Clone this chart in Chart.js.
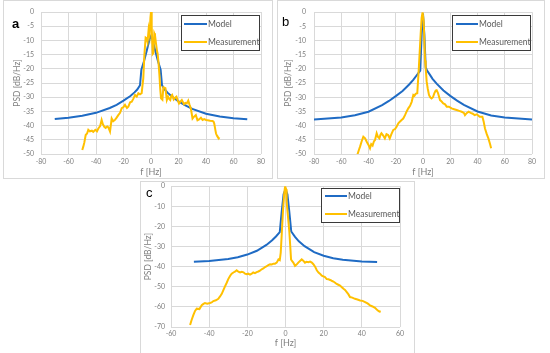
<!DOCTYPE html>
<html>
<head>
<meta charset="utf-8">
<script src="https://cdn.jsdelivr.net/npm/chart.js@4"></script>
<style>
  body { margin: 0; background: #fff; width: 550px; height: 353px; overflow: hidden; position: relative; font-family: Lato, "Open Sans", sans-serif; }
  .frame { position: absolute; border: 1px solid #d9d9d9; box-sizing: border-box; }
  canvas { position: absolute; }
  .tag { position: absolute; font-family: "Liberation Sans", Arial, sans-serif; font-size: 13px; color: #000; line-height: 1; }
  .legend { position: absolute; border: 1.5px solid #3a3a3a; background: #fff; box-sizing: border-box; }
  .row { position: absolute; left: 0; height: 10px; font-size: 8.5px; color: #595959; line-height: 10px; white-space: nowrap; }
  .row span.ln { position: absolute; top: 4px; height: 2px; }
  .row span.tx { position: absolute; top: 0; }
</style>
</head>
<body>
<div class="frame" style="left:3px;top:0;width:270px;height:179px"></div>
<div class="frame" style="left:277px;top:0;width:268px;height:179px"></div>
<div class="frame" style="left:140px;top:181px;width:275px;height:175px"></div>

<canvas id="chartA" width="270" height="178" style="left:3px;top:0"></canvas>
<canvas id="chartB" width="267" height="178" style="left:278px;top:0"></canvas>
<canvas id="chartC" width="274" height="177" style="left:140px;top:176px"></canvas>

<div class="tag" style="left:12px;top:17px;font-weight:bold">a</div>
<div class="tag" style="left:282px;top:15px">b</div>
<div class="tag" style="left:146px;top:186px">c</div>

<div id="legA" class="legend" style="left:181px;top:15px;width:79px;height:36px"></div>
<div id="legB" class="legend" style="left:452px;top:15px;width:79px;height:36px"></div>
<div id="legC" class="legend" style="left:321px;top:188px;width:79px;height:35px"></div>

<script>
// ---- panel a ----
const modelA_f = [-70, -60, -50, -40, -30, -25, -20, -15, -12, -10, -8, -7, -5, -3, -1, 0, 1, 3, 5, 7, 8, 10, 12, 15, 20, 25, 30, 40, 50, 60, 70];
const modelA_db = [-37.7, -37.2, -36.5, -35.5, -33.8, -32.7, -31.2, -29.6, -28.3, -27.3, -25.8, -20.3, -17.2, -13.5, -9.5, -8.5, -9.5, -13.5, -17.2, -20.3, -25.8, -27.3, -28.4, -29.7, -31.5, -32.9, -34.1, -35.8, -36.8, -37.4, -37.8];
const measA_f = [-50, -49.3, -48.5, -47.5, -46.5, -45.6, -44.5, -43, -42, -40.5, -39.3, -38.3, -37, -35.9, -35, -34, -33, -31.8, -31, -29.8, -28.6, -27.5, -26.2, -25, -23.8, -22.5, -21.3, -20, -18.9, -17.5, -16.5, -15.2, -14, -12.8, -11.6, -10.4, -9.2, -8, -6.8, -5.6, -4.8, -3.9, -3.1, -2.5, -1.7, -1, -0.4, 0, 0.5, 1.2, 1.7, 2.4, 2.9, 3.6, 4.3, 4.8, 5.5, 6.1, 6.7, 7.3, 8.3, 9, 10.5, 11.5, 12.4, 13.2, 14, 14.8, 15.4, 16.5, 17.5, 18.5, 19.5, 20.4, 21.5, 22.4, 24, 25, 26, 27.1, 28, 29, 30.2, 31, 32.6, 33.8, 35, 36.3, 37.5, 38.7, 40, 41.2, 43, 44.8, 45.5, 46, 46.8, 47.3, 48, 48.5, 49.2, 50];
const measA_db = [-48.6, -47.5, -46, -43.3, -42.8, -41.5, -42, -41.8, -42.2, -41.5, -42, -41, -40.2, -38, -39.5, -40.4, -40.8, -40.3, -40.6, -42.1, -37.5, -38.5, -38, -37.2, -36.3, -35.5, -33.9, -33.5, -32.7, -33.8, -33.3, -31.8, -31.6, -30.5, -29.2, -29.8, -28.6, -29, -28.6, -23.3, -15, -9, -9.3, -10.5, -6, -8, -2, 0, -5, -14.8, -14.5, -7.5, -8.1, -11, -13.5, -14.6, -18, -22, -27, -30.4, -30.9, -26.5, -26.8, -31, -29.8, -30.6, -31, -29.5, -29.2, -30.8, -30.2, -29.8, -31.2, -32.2, -31.5, -31, -32.5, -32, -32.2, -31.2, -32.6, -34, -37.5, -37, -36.3, -38.1, -37.8, -37.2, -38, -37.7, -38, -38.1, -38.3, -38.4, -38.6, -39.3, -41.5, -42.8, -43.6, -44, -44.4, -44.6];

// ---- panel b ----
const modelB_f = [-80, -70, -60, -50, -40, -30, -25, -20, -15, -10, -7, -5, -3, -2, -1, 0, 1, 2, 3, 5, 7, 10, 15, 20, 25, 30, 40, 50, 60, 70, 80];
const modelB_db = [-37.8, -37.5, -37.1, -36.3, -35.1, -32.8, -31.3, -29.6, -27.8, -25.4, -23.8, -22.5, -21.2, -20.6, -8, -0.5, -8, -19.5, -20.6, -22, -23.5, -25.2, -27.6, -29.5, -31.2, -32.7, -35, -36.4, -37.1, -37.5, -37.8];
const measB_f = [-48.2, -47, -46.2, -45, -43.8, -42.5, -41.3, -40, -38.9, -38, -37, -36, -35.2, -34, -33, -32, -31.2, -30.5, -29.2, -28, -26.8, -25.6, -24.4, -23.2, -21.8, -20.5, -19.4, -18.1, -17, -15.7, -14.5, -13.2, -12, -10.8, -9.5, -8.3, -7.1, -6.3, -5.4, -4.2, -3, -1.7, -1, -0.3, 0.5, 1, 1.5, 2, 2.7, 3.5, 4.4, 5.3, 6.3, 7.3, 8.3, 9.3, 10, 11, 12.5, 13.7, 14.9, 16.2, 17.4, 19, 21, 22.8, 24.7, 26.5, 28.4, 30, 30.8, 32, 33.5, 35, 36.5, 37.9, 39.5, 41.6, 43.6, 44.5, 45.5, 46.8, 48, 49.2, 50];
const measB_db = [-50.3, -48.5, -47.4, -45.5, -43.9, -44.5, -45.7, -46.8, -48, -46.5, -47, -45.5, -45.1, -42.7, -44, -44.5, -43.2, -42.7, -43.5, -44.5, -43, -43.3, -44.5, -43, -41.5, -41.2, -40.4, -39.2, -38.6, -38, -37.5, -36.3, -35, -33.9, -33, -31.6, -29.2, -29.5, -28.8, -28.6, -19.2, -7.5, -2, 0, -3, -10, -17, -19.8, -24.5, -27, -29.2, -30, -30.4, -30, -28.6, -27.6, -27.5, -28.5, -31, -31.5, -32.2, -32.5, -33.3, -33.3, -33.9, -34.2, -34.5, -34.8, -35.1, -35.5, -36.3, -35.6, -35.1, -35.5, -35.8, -36.3, -36, -36.9, -36.9, -38.5, -41, -43, -44.5, -46.5, -48];

// ---- panel c ----
const modelC_f = [-48, -40, -30, -25, -20, -15, -10, -7, -5, -3, -2, -1, 0, 1, 2, 3, 5, 7, 10, 15, 20, 25, 30, 40, 48];
const modelC_db = [-37.6, -37.2, -36.2, -35.3, -34, -32.1, -29.2, -26.9, -25, -22.8, -12.7, -4, -1.5, -4, -12.7, -22.5, -25.2, -27.4, -29.8, -32.8, -34.6, -35.8, -36.6, -37.4, -37.7];
const measC_f = [-50, -49.2, -48.3, -47.4, -46.5, -45.1, -43.9, -43, -42.2, -41, -39.6, -38.7, -37.8, -36.5, -35.2, -34.3, -33.4, -32.5, -31.7, -30.8, -30, -29, -28.2, -27.3, -26.5, -25.6, -24.7, -23.8, -22.9, -22, -21.2, -20.4, -19.5, -18.6, -17.7, -16.9, -16, -15.1, -14.2, -13.4, -12.5, -11.6, -10.7, -9.8, -9, -8.1, -7.2, -6.3, -5.5, -4.6, -3.7, -3, -2.5, -1.9, -1.3, -0.7, -0.2, 0.3, 0.6, 1.2, 2, 2.5, 2.9, 3.5, 4.1, 5, 5.8, 6.7, 7.6, 8.5, 9.3, 10.2, 11, 12, 12.9, 13.8, 14.6, 15.5, 16.4, 17.3, 18.2, 19, 20.7, 21.6, 22.5, 23.4, 24.2, 25.1, 26, 26.8, 27.7, 28.6, 29.5, 30.4, 31.2, 32.1, 33, 33.8, 35, 36.4, 37.7, 39.1, 40.4, 41.7, 43, 44.3, 45.6, 46.9, 47.8, 48.7, 49.3, 49.9];
const measC_db = [-69, -66.5, -64.1, -62, -60.9, -61.1, -59.2, -58.5, -58.1, -58.4, -58.1, -57.8, -57.1, -56.7, -56, -54.8, -53.5, -51.5, -49.8, -48, -46.2, -44.5, -43.5, -42.9, -42.5, -41.8, -42.5, -42.9, -42.6, -42.8, -43.5, -43.8, -43.5, -44, -43.5, -42.9, -43.2, -42.7, -42.4, -42, -41.3, -40.9, -40.2, -39.8, -39.2, -38.8, -38.9, -38.5, -38.5, -38, -36.4, -36.8, -33, -22.5, -12, -3.8, 0, -1.5, -7.8, -14, -22.5, -30, -36.4, -37.3, -38, -39.6, -39, -38, -37.2, -36.4, -37, -38, -37.6, -37.8, -37.5, -38, -38.8, -40, -41.8, -42.9, -43.6, -44.5, -45.2, -46.2, -46.3, -46.6, -47, -47.4, -48, -48.6, -49, -49.4, -50.2, -51, -51.6, -52.7, -53.8, -55.1, -55.4, -56, -56.3, -56.8, -57, -57.6, -58.3, -59.2, -59.8, -60.5, -61.3, -62, -62.4, -62.2];

const seriesNames = ["Model", "Measurement"];
const seriesColors = ["#1f6bc4", "#ffc000"];

const gridColor = "#d9d9d9";
const textColor = "#7f7f7f";

function pts(fs, dbs) {
  return fs.map((f, i) => ({ x: f, y: dbs[i] }));
}

function makePanel(id, o) {
  return new Chart(document.getElementById(id), {
    type: "scatter",
    data: {
      datasets: [
        { label: seriesNames[0], data: pts(o.mf, o.mdb), showLine: true, borderColor: seriesColors[0], borderWidth: 2, pointRadius: 0, order: 1 },
        { label: seriesNames[1], data: pts(o.sf, o.sdb), showLine: true, borderColor: seriesColors[1], borderWidth: 2, pointRadius: 0, order: 0 },
      ],
    },
    options: {
      responsive: false,
      animation: false,
      events: [],
      layout: { padding: { left: 0, right: o.padR, top: o.padT, bottom: 0 } },
      plugins: { legend: { display: false }, tooltip: { enabled: false } },
      scales: {
        x: {
          type: "linear", min: o.xmin, max: o.xmax,
          afterFit: (s) => { s.height = o.xh; },
          ticks: { stepSize: o.xstep, color: textColor, font: { family: "Lato", size: 7 }, padding: o.xtp, maxRotation: 0 },
          grid: { color: gridColor, drawTicks: false },
          border: { display: false },
          title: { display: true, text: "f [Hz]", color: textColor, font: { family: "Lato", size: 9 }, padding: { top: 0, bottom: o.xtb } },
        },
        y: {
          min: o.ymin, max: 0,
          afterFit: (s) => { s.width = o.yw; },
          ticks: { stepSize: o.ystep, color: textColor, font: { family: "Lato", size: 7 }, padding: o.ytp },
          grid: { color: gridColor, drawTicks: false },
          border: { display: false },
          title: { display: true, text: "PSD [dB/Hz]", color: textColor, font: { family: "Lato", size: 8.5 }, padding: { top: o.ytt, bottom: 0 } },
        },
      },
    },
  });
}

function makeLegend(id, sx, sw, rows) {
  const box = document.getElementById(id);
  seriesNames.forEach((name, i) => {
    const r = document.createElement("div");
    r.className = "row";
    r.style.top = (rows[i] - 5) + "px";
    r.innerHTML = `<span class="ln" style="left:${sx}px;width:${sw}px;background:${seriesColors[i]}"></span><span class="tx" style="left:${sx + sw + 1}px">${name}</span>`;
    box.appendChild(r);
  });
}

makePanel("chartA", { mf: modelA_f, mdb: modelA_db, sf: measA_f, sdb: measA_db, xmin: -80, xmax: 80, xstep: 20, ymin: -50, ystep: 5, padR: 12, padT: 12, xh: 24, yw: 38, xtp: 4, xtb: 0.3, ytp: 7, ytt: 8.7 });
makePanel("chartB", { mf: modelB_f, mdb: modelB_db, sf: measB_f, sdb: measB_db, xmin: -80, xmax: 80, xstep: 20, ymin: -50, ystep: 5, padR: 13, padT: 12, xh: 24, yw: 36, xtp: 4, xtb: 0.3, ytp: 8, ytt: 5.2 });
makePanel("chartC", { mf: modelC_f, mdb: modelC_db, sf: measC_f, sdb: measC_db, xmin: -60, xmax: 60, xstep: 20, ymin: -70, ystep: 10, padR: 14, padT: 8, xh: 26, yw: 31, xtp: 3, xtb: 4.6, ytp: 6, ytt: 3.2 });

makeLegend("legA", 2, 23, [8, 26]);
makeLegend("legB", 3, 22, [8, 26]);
makeLegend("legC", 3, 22, [7, 25]);
</script>
</body>
</html>
